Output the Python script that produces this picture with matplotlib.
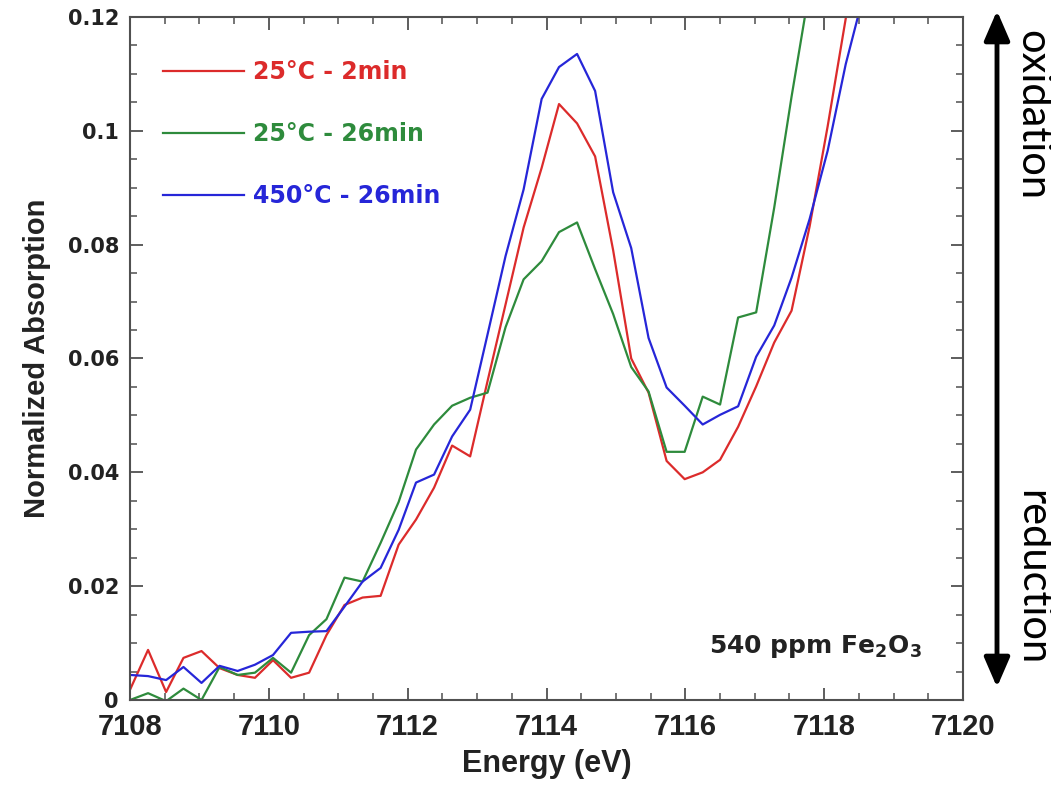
import matplotlib
matplotlib.use('Agg')
import matplotlib.pyplot as plt
from matplotlib.ticker import MultipleLocator, FuncFormatter

# Fe K pre-edge data
energy = [7108.00, 7108.26, 7108.52, 7108.77, 7109.03, 7109.29, 7109.55, 7109.80,
          7110.06, 7110.32, 7110.58, 7110.83, 7111.09, 7111.35, 7111.61, 7111.87,
          7112.12, 7112.38, 7112.64, 7112.90, 7113.15, 7113.41, 7113.67, 7113.93,
          7114.18, 7114.44, 7114.70, 7114.96, 7115.22, 7115.47, 7115.73, 7115.99,
          7116.25, 7116.50, 7116.76, 7117.02, 7117.28, 7117.53, 7117.79, 7118.05,
          7118.31, 7118.57]

abs_25c_2min = [0.0018, 0.0088, 0.0014, 0.0074, 0.0086, 0.0056, 0.0044, 0.0039,
                0.0070, 0.0039, 0.0048, 0.0114, 0.0167, 0.0180, 0.0183, 0.0273,
                0.0317, 0.0373, 0.0447, 0.0428, 0.0560, 0.0695, 0.0830, 0.0935,
                0.1047, 0.1013, 0.0955, 0.0790, 0.0600, 0.0540, 0.0420, 0.0388,
                0.0400, 0.0422, 0.0480, 0.0551, 0.0628, 0.0684, 0.0832, 0.1008,
                0.1197, 0.1380]

abs_25c_26min = [0.0000, 0.0012, -0.0002, 0.0020, 0.0000, 0.0058, 0.0044, 0.0048,
                 0.0074, 0.0048, 0.0114, 0.0142, 0.0215, 0.0208, 0.0276, 0.0348,
                 0.0440, 0.0484, 0.0517, 0.0531, 0.0540, 0.0655, 0.0739, 0.0771,
                 0.0822, 0.0839, 0.0757, 0.0678, 0.0585, 0.0542, 0.0436, 0.0436,
                 0.0533, 0.0519, 0.0672, 0.0681, 0.0865, 0.1060, 0.1250]

abs_450c_26min = [0.0044, 0.0042, 0.0035, 0.0058, 0.0030, 0.0060, 0.0051, 0.0062,
                  0.0079, 0.0118, 0.0120, 0.0121, 0.0164, 0.0208, 0.0232, 0.0299,
                  0.0382, 0.0396, 0.0463, 0.0510, 0.0642, 0.0780, 0.0897, 0.1056,
                  0.1112, 0.1135, 0.1070, 0.0892, 0.0794, 0.0636, 0.0549, 0.0517,
                  0.0484, 0.0501, 0.0516, 0.0603, 0.0658, 0.0742, 0.0845, 0.0965,
                  0.1117, 0.1240]

labels = ['25°C - 2min', '25°C - 26min', '450°C - 26min']
colors = ['#dc2b2b', '#2e8b3c', '#2626d8']

fig = plt.figure(figsize=(10.51, 7.89), dpi=100)
ax = fig.add_axes([0.1237, 0.1128, 0.7926, 0.8657])

series = [abs_25c_2min, abs_25c_26min, abs_450c_26min]
for y, lab, c in zip(series, labels, colors):
    ax.plot(energy[:len(y)], y, color=c, lw=1.6, label=lab)

ax.set_xlim(7108, 7120)
ax.set_ylim(0, 0.12)
ax.xaxis.set_major_locator(MultipleLocator(2))
ax.xaxis.set_minor_locator(MultipleLocator(0.5))
ax.yaxis.set_major_locator(MultipleLocator(0.02))
ax.yaxis.set_minor_locator(MultipleLocator(0.005))
ax.yaxis.set_major_formatter(FuncFormatter(lambda v, p: '%g' % round(v, 4)))
ax.xaxis.set_major_formatter(FuncFormatter(lambda v, p: '%d' % round(v)))

spine_col = '#505050'
for s in ax.spines.values():
    s.set_color(spine_col)
    s.set_linewidth(1.5)
ax.tick_params(which='both', direction='in', top=True, right=True, color=spine_col)
ax.tick_params(which='major', length=9, width=1.3)
ax.tick_params(which='minor', length=5, width=1.1)
ax.tick_params(axis='x', pad=9)
ax.tick_params(axis='y', pad=8)

for t in ax.get_xticklabels():
    t.set_fontfamily('Liberation Sans')
    t.set_fontweight('bold')
    t.set_fontsize(21)
    t.set_color('#222222')
for t in ax.get_yticklabels():
    t.set_fontfamily('DejaVu Sans')
    t.set_fontweight('bold')
    t.set_fontsize(15)
    t.set_color('#222222')

ax.set_xlabel('Energy (eV)', fontfamily='Liberation Sans', fontweight='bold',
              fontsize=22, color='#222222', labelpad=6)
ax.set_ylabel('Normalized Absorption', fontfamily='Liberation Sans', fontweight='bold',
              fontsize=21, color='#222222', labelpad=12)

leg = ax.legend(loc='upper left', bbox_to_anchor=(0.04, 0.937), frameon=False,
                prop={'family': 'DejaVu Sans', 'weight': 'bold', 'size': 17},
                handlelength=3.4, handletextpad=0.4, labelspacing=1.62,
                borderaxespad=0, borderpad=0)
for txt, c in zip(leg.get_texts(), colors):
    txt.set_color(c)

ax.text(0.95, 0.078, r'540 ppm Fe$_\mathbf{2}$O$_\mathbf{3}$', transform=ax.transAxes,
        ha='right', va='center', fontfamily='DejaVu Sans', fontweight='bold',
        fontsize=18, color='#222222')

# oxidation / reduction arrow on the right
fig.patches.append(matplotlib.patches.FancyArrowPatch(
    (997 / 1051, 1 - 8 / 789), (997 / 1051, 1 - 690 / 789), transform=fig.transFigure,
    arrowstyle='<|-|>,head_length=1.5,head_width=0.65', mutation_scale=12,
    color='black', lw=3.5))
fig.text(1032 / 1051, 1 - 115 / 789, 'oxidation', rotation=-90, ha='center', va='center',
         fontfamily='Lato', fontsize=30, color='black')
fig.text(1032 / 1051, 1 - 578 / 789, 'reduction', rotation=-90, ha='center', va='center',
         fontfamily='Lato', fontsize=30, color='black')

fig.savefig('out.png', dpi=100)
